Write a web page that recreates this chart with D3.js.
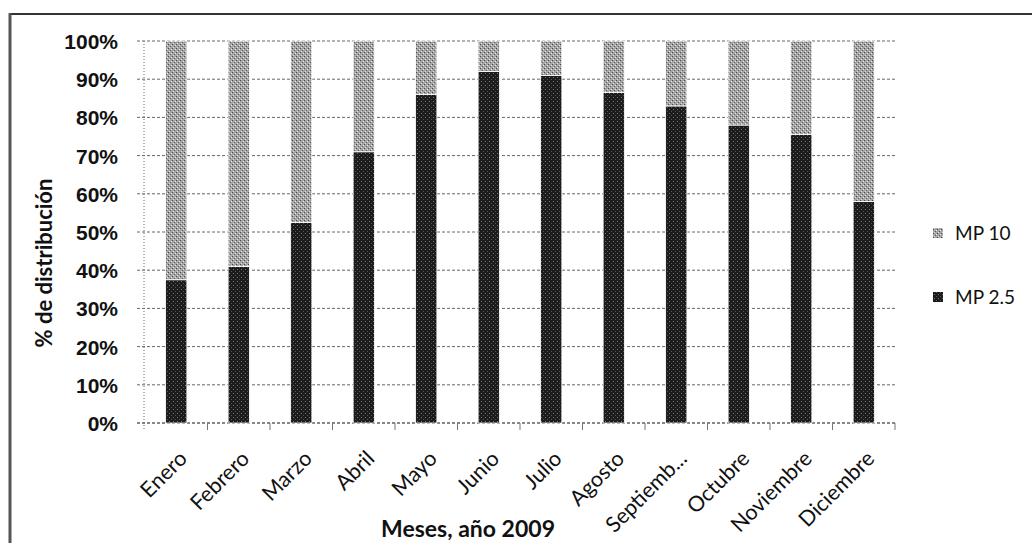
<!DOCTYPE html>
<html>
<head>
<meta charset="utf-8">
<script src="https://cdn.jsdelivr.net/npm/d3@7/dist/d3.min.js"></script>
<style>
  body { margin: 0; background: #fff; }
  svg { font-family: Lato, "Open Sans", sans-serif; }
  .ytick text { font-size: 21px; font-weight: bold; fill: #111; }
  .xtick text { font-size: 21.5px; fill: #111; }
</style>
</head>
<body>
<div id="viz"></div>
<script>
// Chart data
var months = ["Enero", "Febrero", "Marzo", "Abril", "Mayo", "Junio", "Julio",
              "Agosto", "Septiemb...", "Octubre", "Noviembre", "Diciembre"];
var mp25 = [37.5, 41, 52.5, 71, 86, 92, 91, 86.5, 83, 78, 75.5, 58];
var mp10 = [62.5, 59, 47.5, 29, 14, 8, 9, 13.5, 17, 22, 24.5, 42];
var yTicks = [0, 10, 20, 30, 40, 50, 60, 70, 80, 90, 100];
var seriesNames = ["MP 10", "MP 2.5"];

// Layout
var width = 1032, height = 543;
var plot = {left: 145, right: 895, top: 41, bottom: 423};

var svg = d3.select("#viz").append("svg")
    .attr("width", width)
    .attr("height", height);

// textured fills, to look like the scanned original
var defs = svg.append("defs");
var pLight = defs.append("pattern")
    .attr("id", "light").attr("width", 4).attr("height", 4)
    .attr("patternUnits", "userSpaceOnUse");
pLight.append("rect").attr("width", 4).attr("height", 4).attr("fill", "#a4a4a4");
pLight.append("rect").attr("x", 0).attr("y", 0).attr("width", 1).attr("height", 1).attr("fill", "#4a4a4a");
pLight.append("rect").attr("x", 2).attr("y", 2).attr("width", 1).attr("height", 1).attr("fill", "#606060");
pLight.append("rect").attr("x", 3).attr("y", 1).attr("width", 1).attr("height", 1).attr("fill", "#e8e8e8");
pLight.append("rect").attr("x", 1).attr("y", 3).attr("width", 1).attr("height", 1).attr("fill", "#e0e0e0");

var pDark = defs.append("pattern")
    .attr("id", "dark").attr("width", 4).attr("height", 4)
    .attr("patternUnits", "userSpaceOnUse");
pDark.append("rect").attr("width", 4).attr("height", 4).attr("fill", "#1c1c1c");
pDark.append("rect").attr("x", 1).attr("y", 1).attr("width", 1).attr("height", 1).attr("fill", "#777");
pDark.append("rect").attr("x", 3).attr("y", 3).attr("width", 1).attr("height", 1).attr("fill", "#555");

var colors = {"MP 10": "url(#light)", "MP 2.5": "url(#dark)"};

// frame (scan border: top and left only)
svg.append("line").attr("x1", 9).attr("x2", width).attr("y1", 14).attr("y2", 14)
    .attr("stroke", "#333").attr("stroke-width", 2);
svg.append("line").attr("x1", 10).attr("x2", 10).attr("y1", 13).attr("y2", height)
    .attr("stroke", "#555").attr("stroke-width", 3);

// Scales
var x = d3.scaleBand().domain(months).range([plot.left, plot.right]).paddingInner(0.66).paddingOuter(0.33);
var xBand = d3.scaleBand().domain(months).range([plot.left, plot.right]);
var y = d3.scaleLinear().domain([0, 100]).range([plot.bottom, plot.top]);

// gridlines
svg.append("g").selectAll("line")
    .data(yTicks)
    .enter().append("line")
    .attr("x1", plot.left - 8).attr("x2", plot.right + 2)
    .attr("y1", function(d) { return y(d); })
    .attr("y2", function(d) { return y(d); })
    .attr("stroke", function(d) { return d === 0 ? "#888" : "#666"; })
    .attr("stroke-width", function(d) { return d === 0 ? 2 : 1; })
    .attr("stroke-dasharray", "3,2");

// left dotted axis line
svg.append("line").attr("x1", plot.left - 1).attr("x2", plot.left - 1)
    .attr("y1", plot.top).attr("y2", plot.bottom + 8)
    .attr("stroke", "#666").attr("stroke-dasharray", "1,2");

// y axis labels
var yAxis = d3.axisLeft(y).tickValues(yTicks).tickFormat(function(d) { return d + "%"; })
    .tickSize(0).tickPadding(0);
svg.append("g").attr("class", "ytick")
    .attr("transform", "translate(" + (plot.left - 27) + ",0)")
    .call(yAxis)
    .call(function(g) { g.select(".domain").remove(); })
    .selectAll("text").attr("dy", "0.36em");

// x tick marks at category boundaries
svg.append("g").selectAll("line")
    .data(months)
    .enter().append("line")
    .attr("x1", function(d) { return xBand(d) + xBand.bandwidth(); })
    .attr("x2", function(d) { return xBand(d) + xBand.bandwidth(); })
    .attr("y1", plot.bottom).attr("y2", plot.bottom + 7)
    .attr("stroke", "#777");

// stacked bars
var rows = months.map(function(m, i) { return {month: m, "MP 2.5": mp25[i], "MP 10": mp10[i]}; });
var stack = d3.stack().keys(["MP 2.5", "MP 10"]);
var layers = stack(rows);

svg.append("g").selectAll("g")
    .data(layers)
    .enter().append("g")
    .attr("fill", function(d) { return colors[d.key]; })
    .selectAll("rect")
    .data(function(d) { return d; })
    .enter().append("rect")
    .attr("x", function(d) { return x(d.data.month); })
    .attr("width", x.bandwidth())
    .attr("y", function(d) { return y(d[1]); })
    .attr("height", function(d) { return y(d[0]) - y(d[1]); })
    .attr("stroke", "#fff")
    .attr("stroke-width", 0.8);

// x labels, rotated
svg.append("g").attr("class", "xtick").selectAll("text")
    .data(months)
    .enter().append("text")
    .attr("transform", function(d) {
        return "translate(" + (x(d) + x.bandwidth() / 2 + 12) + "," + (plot.bottom + 37) + ") rotate(-45)";
    })
    .attr("text-anchor", "end")
    .text(function(d) { return d; });

// axis titles
svg.append("text")
    .attr("transform", "translate(52,263) rotate(-90)")
    .attr("text-anchor", "middle")
    .attr("font-size", 22).attr("font-weight", "bold").attr("fill", "#111")
    .text("% de distribución");

svg.append("text")
    .attr("x", 468).attr("y", 537)
    .attr("text-anchor", "middle")
    .attr("font-size", 23).attr("font-weight", "bold").attr("fill", "#111")
    .text("Meses, año 2009");

// legend
var legend = svg.append("g").selectAll("g")
    .data(seriesNames)
    .enter().append("g")
    .attr("transform", function(d, i) { return "translate(933," + (233 + i * 64) + ")"; });
legend.append("rect")
    .attr("x", 0).attr("y", -5).attr("width", 10).attr("height", 10)
    .attr("fill", function(d) { return colors[d]; });
legend.append("text")
    .attr("x", 22).attr("dy", "0.36em")
    .attr("font-size", 19).attr("fill", "#111")
    .text(function(d) { return d; });
</script>
</body>
</html>
